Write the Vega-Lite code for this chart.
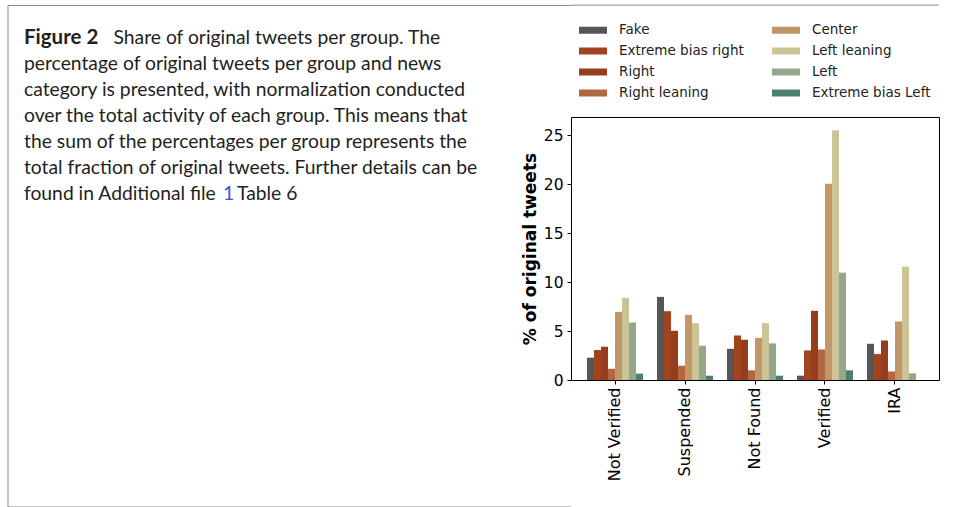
{
  "$schema": "https://vega.github.io/schema/vega-lite/v6.json",
  "padding": {"left": 7, "top": 4, "right": 0, "bottom": 0},
  "autosize": {"type": "pad"},
  "background": "white",
  "bounds": "flush",
  "spacing": 0,
  "config": {"font": "DejaVu Sans"},
  "datasets": {
    "caption": [
      {"line": 1, "seg": "bold", "text": "Figure 2"},
      {"line": 1, "seg": "rest", "text": "Share of original tweets per group. The"},
      {"line": 2, "seg": "body", "text": "percentage of original tweets per group and news"},
      {"line": 3, "seg": "body", "text": "category is presented, with normalization conducted"},
      {"line": 4, "seg": "body", "text": "over the total activity of each group. This means that"},
      {"line": 5, "seg": "body", "text": "the sum of the percentages per group represents the"},
      {"line": 6, "seg": "body", "text": "total fraction of original tweets. Further details can be"},
      {"line": 7, "seg": "body", "text": "found in Additional file"},
      {"line": 7, "seg": "link", "text": "1"},
      {"line": 7, "seg": "tail", "text": "Table 6"}
    ],
    "bars": [
      {"group": "Not Verified", "cat": "Fake", "value": 2.28},
      {"group": "Not Verified", "cat": "Extreme bias right", "value": 3.06},
      {"group": "Not Verified", "cat": "Right", "value": 3.40},
      {"group": "Not Verified", "cat": "Right leaning", "value": 1.15},
      {"group": "Not Verified", "cat": "Center", "value": 6.96},
      {"group": "Not Verified", "cat": "Left leaning", "value": 8.39},
      {"group": "Not Verified", "cat": "Left", "value": 5.88},
      {"group": "Not Verified", "cat": "Extreme bias Left", "value": 0.65},
      {"group": "Suspended", "cat": "Fake", "value": 8.49},
      {"group": "Suspended", "cat": "Extreme bias right", "value": 7.03},
      {"group": "Suspended", "cat": "Right", "value": 5.03},
      {"group": "Suspended", "cat": "Right leaning", "value": 1.46},
      {"group": "Suspended", "cat": "Center", "value": 6.66},
      {"group": "Suspended", "cat": "Left leaning", "value": 5.81},
      {"group": "Suspended", "cat": "Left", "value": 3.50},
      {"group": "Suspended", "cat": "Extreme bias Left", "value": 0.44},
      {"group": "Not Found", "cat": "Fake", "value": 3.19},
      {"group": "Not Found", "cat": "Extreme bias right", "value": 4.55},
      {"group": "Not Found", "cat": "Right", "value": 4.11},
      {"group": "Not Found", "cat": "Right leaning", "value": 0.99},
      {"group": "Not Found", "cat": "Center", "value": 4.31},
      {"group": "Not Found", "cat": "Left leaning", "value": 5.81},
      {"group": "Not Found", "cat": "Left", "value": 3.74},
      {"group": "Not Found", "cat": "Extreme bias Left", "value": 0.44},
      {"group": "Verified", "cat": "Fake", "value": 0.44},
      {"group": "Verified", "cat": "Extreme bias right", "value": 3.02},
      {"group": "Verified", "cat": "Right", "value": 7.07},
      {"group": "Verified", "cat": "Right leaning", "value": 3.12},
      {"group": "Verified", "cat": "Center", "value": 20.04},
      {"group": "Verified", "cat": "Left leaning", "value": 25.51},
      {"group": "Verified", "cat": "Left", "value": 10.97},
      {"group": "Verified", "cat": "Extreme bias Left", "value": 0.99},
      {"group": "IRA", "cat": "Fake", "value": 3.70},
      {"group": "IRA", "cat": "Extreme bias right", "value": 2.65},
      {"group": "IRA", "cat": "Right", "value": 4.04},
      {"group": "IRA", "cat": "Right leaning", "value": 0.88},
      {"group": "IRA", "cat": "Center", "value": 5.98},
      {"group": "IRA", "cat": "Left leaning", "value": 11.58},
      {"group": "IRA", "cat": "Left", "value": 0.68},
      {"group": "IRA", "cat": "Extreme bias Left", "value": 0.0}
    ]
  },
  "hconcat": [
    {
      "width": 563,
      "height": 263,
      "view": {"stroke": null},
      "layer": [
        {
          "data": {"values": [{}]},
          "mark": {"type": "rule", "color": "#8c8c8c", "strokeWidth": 1},
          "encoding": {
            "x": {"datum": 0, "type": "quantitative", "scale": {"domain": [0, 563], "nice": false, "zero": false}, "axis": null},
            "y": {"datum": -0.25, "type": "quantitative", "scale": {"domain": [4.038, 14.154], "reverse": true, "nice": false, "zero": false}, "axis": null},
            "y2": {"datum": 19.04}
          }
        },
        {
          "data": {"values": [{}]},
          "mark": {"type": "rule", "color": "#8c8c8c", "strokeWidth": 1},
          "encoding": {
            "x": {"datum": 0, "type": "quantitative"},
            "x2": {"datum": 563},
            "y": {"datum": -0.25, "type": "quantitative"}
          }
        },
        {
          "data": {"values": [{}]},
          "mark": {"type": "rule", "color": "#8c8c8c", "strokeWidth": 1},
          "encoding": {
            "x": {"datum": 0, "type": "quantitative"},
            "x2": {"datum": 563},
            "y": {"datum": 19.04, "type": "quantitative"}
          }
        },
        {
          "data": {"name": "caption"},
          "transform": [{"filter": "datum.seg === 'body'"}],
          "mark": {"type": "text", "align": "left", "baseline": "middle", "font": "Lato", "fontSize": 19.3, "color": "#231f20"},
          "encoding": {
            "x": {"datum": 16, "type": "quantitative"},
            "y": {"field": "line", "type": "quantitative"},
            "text": {"field": "text"}
          }
        },
        {
          "data": {"name": "caption"},
          "transform": [{"filter": "datum.seg === 'bold'"}],
          "mark": {"type": "text", "align": "left", "baseline": "middle", "font": "Lato", "fontSize": 20.5, "fontWeight": "bold", "color": "#231f20"},
          "encoding": {
            "x": {"datum": 16, "type": "quantitative"},
            "y": {"field": "line", "type": "quantitative"},
            "text": {"field": "text"}
          }
        },
        {
          "data": {"name": "caption"},
          "transform": [{"filter": "datum.seg === 'rest'"}],
          "mark": {"type": "text", "align": "left", "baseline": "middle", "font": "Lato", "fontSize": 19.3, "color": "#231f20"},
          "encoding": {
            "x": {"datum": 105.5, "type": "quantitative"},
            "y": {"field": "line", "type": "quantitative"},
            "text": {"field": "text"}
          }
        },
        {
          "data": {"name": "caption"},
          "transform": [{"filter": "datum.seg === 'link'"}],
          "mark": {"type": "text", "align": "left", "baseline": "middle", "font": "Lato", "fontSize": 19.3, "color": "#3a53e0"},
          "encoding": {
            "x": {"datum": 215, "type": "quantitative"},
            "y": {"field": "line", "type": "quantitative"},
            "text": {"field": "text"}
          }
        },
        {
          "data": {"name": "caption"},
          "transform": [{"filter": "datum.seg === 'tail'"}],
          "mark": {"type": "text", "align": "left", "baseline": "middle", "font": "Lato", "fontSize": 19.3, "color": "#231f20"},
          "encoding": {
            "x": {"datum": 229, "type": "quantitative"},
            "y": {"field": "line", "type": "quantitative"},
            "text": {"field": "text"}
          }
        }
      ]
    },
    {
      "width": 368,
      "height": 263,
      "view": {"stroke": "#000000", "strokeWidth": 1},
      "layer": [
        {
          "data": {"name": "bars"},
          "mark": {"type": "bar"},
          "encoding": {
            "x": {
              "field": "group", "type": "nominal",
              "sort": ["Not Verified", "Suspended", "Not Found", "Verified", "IRA"],
              "scale": {"paddingInner": 0.2, "paddingOuter": 0.2286},
              "axis": {"title": null, "labelAngle": -90, "labelFont": "DejaVu Sans", "labelFontSize": 16, "labelColor": "#000000", "tickSize": 4, "tickColor": "#000000", "labelPadding": 3, "domain": false}
            },
            "xOffset": {
              "field": "cat", "type": "nominal",
              "sort": ["Fake", "Extreme bias right", "Right", "Right leaning", "Center", "Left leaning", "Left", "Extreme bias Left"],
              "scale": {"paddingInner": 0, "paddingOuter": 0}
            },
            "y": {
              "field": "value", "type": "quantitative",
              "scale": {"domain": [0, 26.87], "nice": false, "zero": true},
              "axis": {"title": "% of original tweets", "titleFont": "DejaVu Sans", "titleFontSize": 17, "titleFontWeight": "bold", "titleColor": "#000000", "titlePadding": 4, "labelFont": "DejaVu Sans", "labelFontSize": 15.5, "labelColor": "#000000", "values": [0, 5, 10, 15, 20, 25], "grid": false, "tickSize": 4, "tickColor": "#000000", "labelPadding": 4, "domain": false}
            },
            "color": {
              "field": "cat", "type": "nominal",
              "scale": {
                "domain": ["Fake", "Extreme bias right", "Right", "Right leaning", "Center", "Left leaning", "Left", "Extreme bias Left"],
                "range": ["#565656", "#a2431f", "#963d1d", "#b4673f", "#c19768", "#ccc397", "#93a88a", "#4e7e6c"]
              },
              "legend": {
                "orient": "none", "legendX": 571, "legendY": -101, "columns": 2, "columnPadding": 28, "rowPadding": -1,
                "title": null, "padding": 0,
                "labelFont": "DejaVu Sans", "labelFontSize": 13.5, "labelColor": "#222222", "labelOffset": 12,
                "symbolType": "M-1,-0.25H1V0.25H-1Z", "symbolSize": 784, "symbolStrokeWidth": 0, "symbolOpacity": 1
              }
            }
          }
        },
        {
          "data": {"values": [{}]},
          "mark": {"type": "rule", "color": "#8c8c8c", "strokeWidth": 1},
          "encoding": {"y": {"datum": 38.3, "type": "quantitative"}}
        }
      ]
    }
  ]
}
